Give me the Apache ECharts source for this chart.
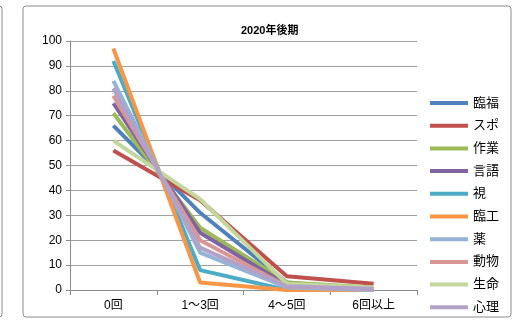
<!DOCTYPE html>
<html>
<head>
<meta charset="utf-8">
<script src="https://cdn.jsdelivr.net/npm/echarts@6/dist/echarts.min.js"></script>
<style>
  html, body { margin: 0; padding: 0; background: #fff; }
  #main { width: 517px; height: 320px; }
</style>
</head>
<body>
<div id="main"></div>
<script>
// 回数カテゴリ
const categories = ['0回', '1～3回', '4～5回', '6回以上']
const seriesNames = ['臨福', 'スポ', '作業', '言語', '視', '臨工', '薬', '動物', '生命', '心理']
// 各学科の割合 (%)
const rinfuku = [66, 31, 3, 0]
const supo = [56, 36, 5.5, 2.5]
const sagyo = [71, 25, 3, 1]
const gengo = [75, 23, 2, 0]
const shi = [92, 8, 0, 0]
const rinko = [97, 3, 0, 0]
const yaku = [84, 15, 1, 0]
const dobutsu = [78, 20, 1.5, 0.5]
const seimei = [60, 36.5, 2.5, 1]
const shinri = [81, 17, 1.5, 0.5]
const seriesData = [rinfuku, supo, sagyo, gengo, shi, rinko, yaku, dobutsu, seimei, shinri]
const colors = ['#4F81BD', '#C0504D', '#9BBB59', '#8064A2', '#4BACC6', '#F79646',
  '#95B3D7', '#D99694', '#C3D69B', '#B3A2C7']

const font = '"Liberation Sans", "Noto Sans CJK JP", sans-serif'

const chart = echarts.init(document.getElementById('main'))
chart.setOption({
  animation: false,
  color: colors,
  textStyle: { fontFamily: font },
  title: {
    text: '2020年後期',
    left: 236,
    top: 20,
    textStyle: { fontSize: 11, fontWeight: 'bold', color: '#000', fontFamily: font }
  },
  graphic: [
    {
      type: 'rect',
      shape: { x: 23, y: 6, width: 488, height: 311, r: 3 },
      style: { fill: 'none', stroke: '#8c8c8c', lineWidth: 1 }
    },
    {
      type: 'rect',
      shape: { x: -10, y: 6, width: 12, height: 311, r: 3 },
      style: { fill: 'none', stroke: '#8c8c8c', lineWidth: 1 }
    }
  ],
  legend: {
    orient: 'vertical',
    left: 430,
    top: 96,
    padding: 0,
    icon: 'rect',
    itemWidth: 38,
    itemHeight: 4,
    itemGap: 8.7,
    data: seriesNames,
    textStyle: { fontSize: 13, color: '#000', lineHeight: 14 }
  },
  grid: { left: 70, right: 100, top: 41, bottom: 30 },
  xAxis: {
    type: 'category',
    data: categories,
    boundaryGap: true,
    axisLine: { lineStyle: { color: '#8c8c8c' } },
    axisTick: { show: true, length: 5, lineStyle: { color: '#8c8c8c' } },
    axisLabel: { fontSize: 12, color: '#000', margin: 10 }
  },
  yAxis: {
    type: 'value',
    min: 0,
    max: 100,
    interval: 10,
    axisLine: { show: true, lineStyle: { color: '#8c8c8c' } },
    axisTick: { show: true, length: 4, lineStyle: { color: '#8c8c8c' } },
    axisLabel: { fontSize: 12, color: '#000', margin: 8 },
    splitLine: { lineStyle: { color: '#a0a0a0', width: 1 } }
  },
  series: seriesNames.map((name, i) => ({
    name: name,
    type: 'line',
    data: seriesData[i],
    showSymbol: false,
    symbol: 'none',
    lineStyle: { width: 4, color: colors[i] },
    itemStyle: { color: colors[i] }
  }))
})
</script>
</body>
</html>
